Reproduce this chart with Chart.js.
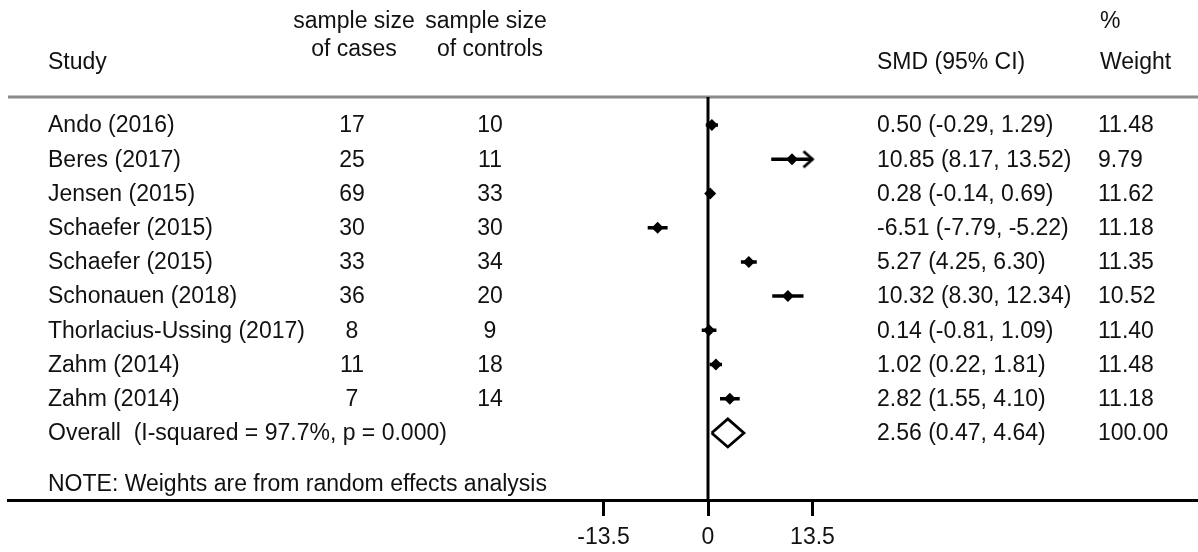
<!DOCTYPE html>
<html lang="en">
<head>
    <meta charset="UTF-8">
    <title>Forest plot - SMD</title>
    <style>
        body { margin: 0; background: #fff; }
        canvas { display: block; }
    </style>
</head>
<body>
    <canvas id="forest" width="1198" height="552"></canvas>

    <script src="https://cdn.jsdelivr.net/npm/chart.js"></script>
    <script>
        // Dados do estudo
        const studies = ["Ando (2016)", "Beres (2017)", "Jensen (2015)", "Schaefer (2015)", "Schaefer (2015)",
            "Schonauen (2018)", "Thorlacius-Ussing (2017)", "Zahm (2014)", "Zahm (2014)"];
        const casesN = [17, 25, 69, 30, 33, 36, 8, 11, 7];
        const controlsN = [10, 11, 33, 30, 34, 20, 9, 18, 14];
        const smd = [0.50, 10.85, 0.28, -6.51, 5.27, 10.32, 0.14, 1.02, 2.82];
        const ciLow = [-0.29, 8.17, -0.14, -7.79, 4.25, 8.30, -0.81, 0.22, 1.55];
        const ciHigh = [1.29, 13.52, 0.69, -5.22, 6.30, 12.34, 1.09, 1.81, 4.10];
        const weights = ["11.48", "9.79", "11.62", "11.18", "11.35", "10.52", "11.40", "11.48", "11.18"];
        const overall = { smd: 2.56, low: 0.47, high: 4.64, weight: "100.00" };
        const iSquared = "97.7%";
        const pValue = "0.000";
        const xTicks = [-13.5, 0, 13.5];

        const FONT = '"Liberation Sans", Arial, sans-serif';
        const limite = 13.5;          // faixa exibida; CI além disso recebe seta
        const overallRow = studies.length;
        const yMin = -0.82, yMax = 10.96;

        // linhas dos intervalos de confiança (segmentos separados por NaN)
        const ciData = [];
        studies.forEach((s, i) => {
            ciData.push({ x: Math.max(ciLow[i], -limite), y: i });
            ciData.push({ x: Math.min(ciHigh[i], limite), y: i });
            ciData.push({ x: NaN, y: NaN });
        });

        const arrowData = [];
        studies.forEach((s, i) => {
            if (ciHigh[i] > limite) arrowData.push({ x: limite, y: i });
        });

        // ponta de seta aberta
        const arrowImg = document.createElement("canvas");
        arrowImg.width = 24; arrowImg.height = 20;
        const actx = arrowImg.getContext("2d");
        actx.strokeStyle = "#000";
        actx.lineWidth = 2.8;
        actx.beginPath();
        actx.moveTo(3, 2);
        actx.lineTo(12, 10);
        actx.lineTo(3, 18);
        actx.stroke();

        const diamondH = 0.41;
        const diamondData = [
            { x: overall.low, y: overallRow },
            { x: overall.smd, y: overallRow - diamondH },
            { x: overall.high, y: overallRow },
            { x: overall.smd, y: overallRow + diamondH },
            { x: overall.low, y: overallRow }
        ];

        const textos = {
            id: "textos",
            beforeDatasetsDraw(chart) {
                const ctx = chart.ctx;
                const area = chart.chartArea;
                ctx.save();
                ctx.strokeStyle = "#8a8a8a";
                ctx.lineWidth = 3;
                ctx.beginPath();
                ctx.moveTo(area.left, area.top);
                ctx.lineTo(area.right, area.top);
                ctx.stroke();
                ctx.restore();
            },
            afterDraw(chart) {
                const ctx = chart.ctx;
                const y = chart.scales.y;
                ctx.save();
                ctx.fillStyle = "#111";
                ctx.font = "23px " + FONT;
                ctx.textBaseline = "middle";

                // cabeçalho
                ctx.textAlign = "left";
                ctx.fillText("Study", 48, 63);
                ctx.fillText("SMD (95% CI)", 877, 63);
                ctx.fillText("%", 1100, 22);
                ctx.fillText("Weight", 1100, 63);
                ctx.textAlign = "center";
                ctx.fillText("sample size", 354, 22);
                ctx.fillText("of cases", 354, 50);
                ctx.fillText("sample size", 486, 22);
                ctx.fillText("of controls", 490, 50);

                studies.forEach((s, i) => {
                    const py = y.getPixelForValue(i) + 1;
                    ctx.textAlign = "left";
                    ctx.fillText(s, 48, py);
                    ctx.fillText(smd[i].toFixed(2) + " (" + ciLow[i].toFixed(2) + ", " + ciHigh[i].toFixed(2) + ")", 877, py);
                    ctx.fillText(weights[i], 1098, py);
                    ctx.textAlign = "center";
                    ctx.fillText(String(casesN[i]), 352, py);
                    ctx.fillText(String(controlsN[i]), 490, py);
                });

                const oy = y.getPixelForValue(overallRow) + 1;
                ctx.textAlign = "left";
                ctx.fillText("Overall  (I-squared = " + iSquared + ", p = " + pValue + ")", 48, oy);
                ctx.fillText(overall.smd.toFixed(2) + " (" + overall.low.toFixed(2) + ", " + overall.high.toFixed(2) + ")", 877, oy);
                ctx.fillText(overall.weight, 1098, oy);
                ctx.fillText("NOTE: Weights are from random effects analysis", 48, y.getPixelForValue(overallRow + 1.5));
                ctx.restore();
            }
        };

        const pxPorUnidade = 104.5 / 13.5;

        new Chart(document.getElementById("forest"), {
            type: "scatter",
            data: {
                datasets: [
                    {
                        // linha do zero
                        data: [{ x: 0, y: yMin }, { x: 0, y: yMax }],
                        showLine: true,
                        borderColor: "#000",
                        borderWidth: 3,
                        pointRadius: 0
                    },
                    {
                        data: ciData,
                        showLine: true,
                        spanGaps: false,
                        borderColor: "#000",
                        borderWidth: 3.5,
                        pointRadius: 0
                    },
                    {
                        data: studies.map((s, i) => ({ x: smd[i], y: i })),
                        pointStyle: "rectRot",
                        pointRadius: 6,
                        backgroundColor: "#000",
                        borderColor: "#000",
                        borderWidth: 0
                    },
                    {
                        data: arrowData,
                        pointStyle: arrowImg,
                        pointRadius: 10
                    },
                    {
                        data: diamondData,
                        showLine: true,
                        borderColor: "#000",
                        borderWidth: 2.8,
                        pointRadius: 0,
                        fill: false
                    }
                ]
            },
            options: {
                responsive: false,
                animation: false,
                layout: { autoPadding: false, padding: { top: 97, left: 8, right: 0, bottom: 0 } },
                plugins: {
                    legend: { display: false },
                    tooltip: { enabled: false }
                },
                scales: {
                    x: {
                        type: "linear",
                        min: -700 / pxPorUnidade,
                        max: 490 / pxPorUnidade,
                        afterBuildTicks: (scale) => {
                            scale.ticks = xTicks.map(v => ({ value: v }));
                        },
                        afterFit: (scale) => { scale.height = 52; },
                        ticks: {
                            autoSkip: false,
                            maxRotation: 0,
                            padding: 8,
                            color: "#111",
                            font: { size: 23, family: FONT },
                            callback: (v) => String(v)
                        },
                        grid: {
                            drawOnChartArea: false,
                            drawTicks: true,
                            tickLength: 16,
                            color: "#000",
                            lineWidth: 3
                        },
                        border: { display: true, color: "#000", width: 3 }
                    },
                    y: {
                        type: "linear",
                        display: false,
                        reverse: true,
                        min: yMin,
                        max: yMax
                    }
                }
            },
            plugins: [textos]
        });
    </script>
</body>
</html>
